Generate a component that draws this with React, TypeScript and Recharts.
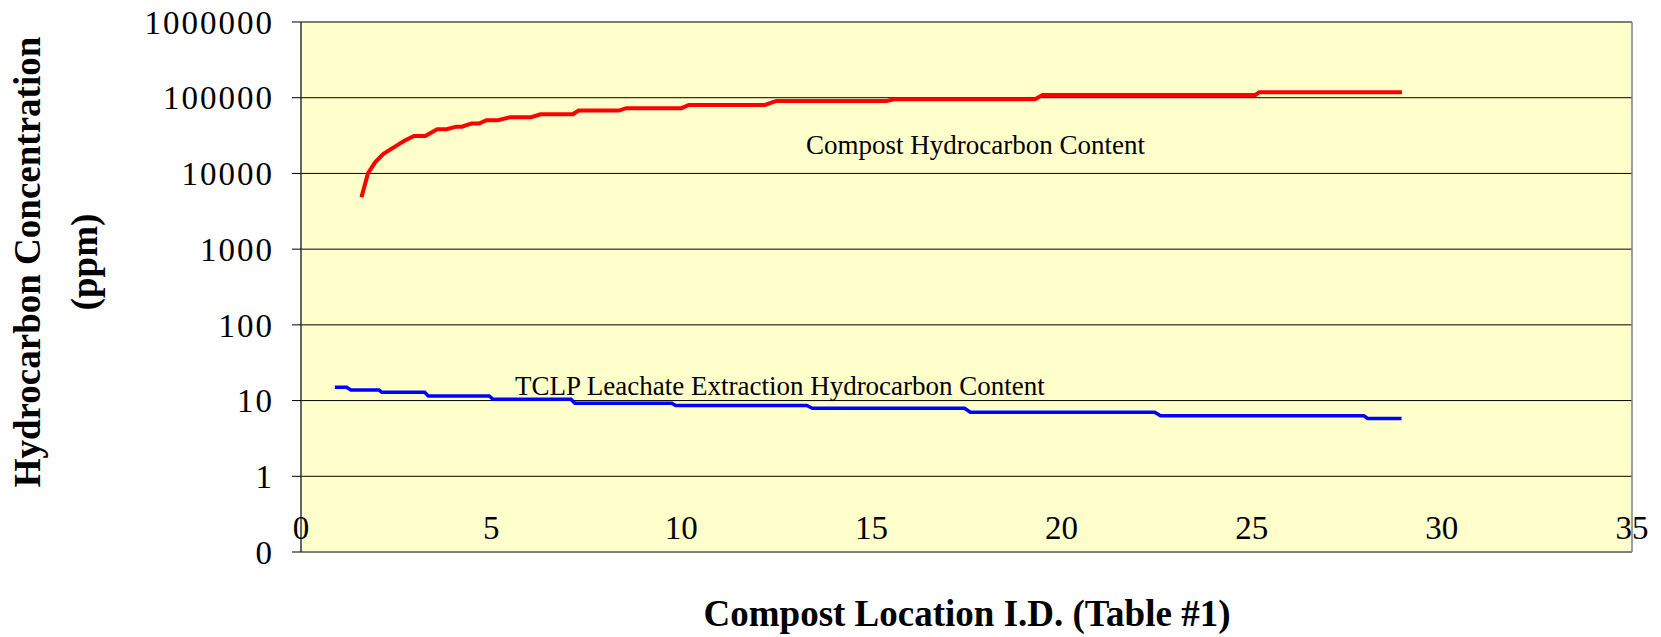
import { LineChart, Line, XAxis, YAxis, CartesianGrid, ReferenceLine } from 'recharts';

// Compost hydrocarbon content (ppm) vs compost location I.D.
const compostX = [
  1.59, 1.76, 1.95, 2.16, 2.47, 2.72, 2.97, 3.27, 3.58, 3.83, 4.08, 4.23, 4.48, 4.68,
  4.88, 5.18, 5.5, 6.05, 6.3, 7.15, 7.3, 8.36, 8.55, 10.0, 10.2, 12.2, 12.5, 15.4,
  15.6, 19.3, 19.5, 25.1, 25.2, 28.95,
];
const compostPpm = [
  4850, 10000, 14000, 18000, 22600, 27000, 31300, 31300, 38400, 38400, 41500, 41500, 45500, 45500,
  50500, 50500, 55300, 55300, 60500, 60500, 67600, 67600, 72700, 72700, 80300, 80300, 90700, 90700,
  95500, 95500, 108900, 108900, 118300, 118300,
];

// TCLP leachate extraction hydrocarbon content (ppm)
const leachateX = [
  0.89, 1.2, 1.31, 2.05, 2.12, 3.25, 3.35, 4.95, 5.05, 7.1, 7.2, 9.75, 9.85, 13.3,
  13.45, 17.45, 17.6, 22.45, 22.6, 27.95, 28.05, 28.94,
];
const leachatePpm = [
  15, 15, 13.8, 13.8, 12.9, 12.9, 11.5, 11.5, 10.4, 10.4, 9.2, 9.2, 8.6, 8.6,
  7.9, 7.9, 7.0, 7.0, 6.3, 6.3, 5.8, 5.8,
];

const xTicks = [0, 5, 10, 15, 20, 25, 30, 35];
const yTicks = [0.1, 1, 10, 100, 1000, 10000, 100000, 1000000];

const compostData = compostX.map((x, i) => ({ x, ppm: compostPpm[i] }));
const leachateData = leachateX.map((x, i) => ({ x, ppm: leachatePpm[i] }));

const W = 1661;
const H = 637;
const PLOT_BOTTOM = 552;
const FONT = '"Liberation Serif", "Times New Roman", serif';

// x labels sit inside the plot, just above its bottom edge
const renderXTick = (props: any) => {
  const { x, payload } = props;
  return (
    <text x={x} y={PLOT_BOTTOM - 13} textAnchor="middle" fontFamily={FONT} fontSize={33} fill="#000">
      {payload.value}
    </text>
  );
};

export default function App() {
  return (
    <div style={{ position: 'absolute', left: 0, top: 0, width: W, height: H, background: '#fff' }}>
      <LineChart width={W} height={H} margin={{ top: 22, right: 29, left: 0, bottom: 55 }}>
        <CartesianGrid vertical={false} stroke="#000" strokeWidth={1} fill="#FFFFCC" fillOpacity={1} />
        <XAxis
          type="number"
          dataKey="x"
          domain={[0, 35]}
          ticks={xTicks}
          height={30}
          tickLine={false}
          axisLine={{ stroke: '#808080', strokeWidth: 2 }}
          tick={renderXTick}
          interval={0}
          allowDataOverflow
        />
        <YAxis
          type="number"
          scale="log"
          domain={[0.1, 1000000]}
          ticks={yTicks}
          width={301}
          interval={0}
          allowDataOverflow
          tickSize={9}
          tickMargin={18}
          tickLine={{ stroke: '#000' }}
          axisLine={{ stroke: '#333', strokeWidth: 1.5 }}
          tickFormatter={(v: number) => (v < 1 ? '0' : String(v))}
          tick={{ fontFamily: FONT, fontSize: 33, fill: '#000', letterSpacing: 2 }}
        />
        <ReferenceLine x={35} stroke="#808080" strokeWidth={1.5} />
        <Line
          data={compostData}
          dataKey="ppm"
          type="linear"
          stroke="#FF0000"
          strokeWidth={4}
          dot={false}
          isAnimationActive={false}
        />
        <Line
          data={leachateData}
          dataKey="ppm"
          type="linear"
          stroke="#0000FF"
          strokeWidth={3.5}
          dot={false}
          isAnimationActive={false}
        />
      </LineChart>
      <svg
        width={W}
        height={H}
        style={{ position: 'absolute', left: 0, top: 0, pointerEvents: 'none' }}
        fontFamily={FONT}
      >
        <text x={806} y={153.5} fontSize={27} fill="#000">Compost Hydrocarbon Content</text>
        <text x={515} y={395} fontSize={27} fill="#000">TCLP Leachate Extraction Hydrocarbon Content</text>
        <text x={967} y={626} fontSize={37} fontWeight="bold" textAnchor="middle" fill="#000">
          Compost Location I.D. (Table #1)
        </text>
        <text x={40} y={262} fontSize={37} fontWeight="bold" textAnchor="middle" fill="#000" transform="rotate(-90, 40, 262)">
          Hydrocarbon Concentration
        </text>
        <text x={97} y={262} fontSize={37} fontWeight="bold" textAnchor="middle" fill="#000" transform="rotate(-90, 97, 262)">
          (ppm)
        </text>
      </svg>
    </div>
  );
}
